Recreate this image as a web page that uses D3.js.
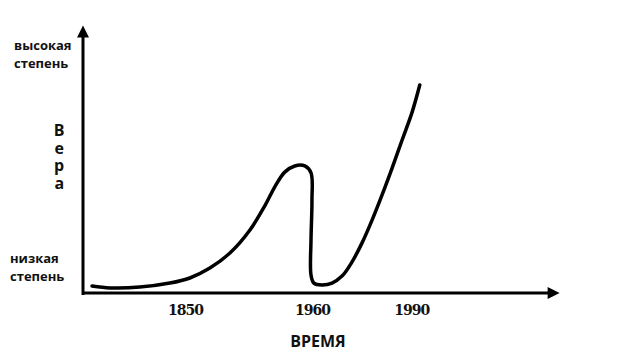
<!DOCTYPE html>
<html>
<head>
<meta charset="utf-8">
<script src="https://cdn.jsdelivr.net/npm/d3@7"></script>
<style>
  body { margin: 0; background: #fff; }
  text { fill: #111; }
</style>
</head>
<body>
<div id="chart"></div>
<script>
// time runs in arbitrary units 0..100 along the axis, belief 0..100 up the axis
var timeVals = [1.9, 5.7, 11.9, 18.2, 22.4, 26.6, 30.8, 35.0, 38.2, 40.3, 42.3, 44.4, 46.5, 47.8, 48.0, 47.8, 47.8, 48.4, 50.1, 52.2, 54.3, 56.4, 58.5, 60.6, 62.7, 64.8, 66.9, 69.0, 70.6];
var beliefVals = [2.6, 1.9, 2.2, 3.7, 5.6, 9.3, 14.9, 23.5, 32.8, 39.9, 45.1, 47.4, 47.4, 44.8, 34.7, 19.8, 6.7, 3.7, 3.0, 3.7, 6.3, 11.6, 18.7, 27.2, 36.6, 46.6, 57.1, 67.5, 77.6];
var tickPos = [21.4, 48, 68.8];
var tickLabels = ["1850", "1960", "1990"];
var yLabelTop = ["высокая", "степень"];
var yLabelBottom = ["низкая", "степень"];
var yTitle = "Вера";

var width = 628, height = 358;

var svg = d3.select("#chart").append("svg")
  .attr("width", width)
  .attr("height", height);

var x = d3.scaleLinear().domain([0, 100]).range([83, 560]);
var y = d3.scaleLinear().domain([0, 100]).range([293, 25]);

// arrow heads
var defs = svg.append("defs");
defs.append("marker")
  .attr("id", "arrow")
  .attr("viewBox", "0 0 10 10")
  .attr("refX", 2).attr("refY", 5)
  .attr("markerWidth", 5).attr("markerHeight", 4)
  .attr("markerUnits", "strokeWidth")
  .attr("orient", "auto")
  .append("path")
  .attr("d", "M0,0 L10,5 L0,10 Z")
  .attr("fill", "#000");

// axes
svg.append("line")
  .attr("x1", x(0)).attr("y1", y(0) + 2)
  .attr("x2", x(0)).attr("y2", y(100) + 10)
  .attr("stroke", "#000").attr("stroke-width", 3)
  .attr("marker-end", "url(#arrow)");

svg.append("line")
  .attr("x1", x(0) - 1).attr("y1", y(0))
  .attr("x2", x(100) - 10).attr("y2", y(0))
  .attr("stroke", "#000").attr("stroke-width", 3)
  .attr("marker-end", "url(#arrow)");

// x tick labels
var xAxis = d3.axisBottom(x)
  .tickValues(tickPos)
  .tickFormat(function(d, i) { return tickLabels[i]; })
  .tickSize(0)
  .tickPadding(12);

var gx = svg.append("g")
  .attr("transform", "translate(0," + y(0) + ")")
  .call(xAxis);
gx.select(".domain").remove();
gx.selectAll("text")
  .style("font-family", "'DejaVu Serif', serif")
  .style("font-weight", "bold")
  .style("font-size", "14px")
  .style("letter-spacing", "-1px")
  .attr("fill", "#111");

// axis title
svg.append("text")
  .attr("x", 318).attr("y", 347)
  .attr("text-anchor", "middle")
  .style("font-family", "'Open Sans', sans-serif")
  .style("font-weight", "bold")
  .style("font-size", "16px")
  .text("ВРЕМЯ");

// left labels
function stack(lines, xStart, yStart) {
  svg.append("text")
    .attr("x", xStart)
    .attr("y", yStart)
    .style("font-family", "'Open Sans', sans-serif")
    .style("font-weight", "bold")
    .style("font-size", "13px")
    .selectAll("tspan")
    .data(lines).enter().append("tspan")
    .attr("x", xStart)
    .attr("dy", function(d, i) { return i ? 18 : 0; })
    .text(function(d) { return d; });
}
stack(yLabelTop, 14, 50);
stack(yLabelBottom, 10, 263);

// vertical title, upright letters
svg.append("text")
  .attr("x", 59)
  .attr("y", 119)
  .style("writing-mode", "vertical-lr")
  .style("text-orientation", "upright")
  .style("font-family", "'Open Sans', sans-serif")
  .style("font-weight", "bold")
  .style("font-size", "16px")
  .style("letter-spacing", "-4.5px")
  .text(yTitle);

// belief curve
var pts = timeVals.map(function(t, i) { return [t, beliefVals[i]]; });
var line = d3.line()
  .x(function(d) { return x(d[0]); })
  .y(function(d) { return y(d[1]); })
  .curve(d3.curveCatmullRom.alpha(0.5));

svg.append("path")
  .datum(pts)
  .attr("d", line)
  .attr("fill", "none")
  .attr("stroke", "#000")
  .attr("stroke-width", 3.5)
  .attr("stroke-linecap", "round")
  .attr("stroke-linejoin", "round");
</script>
</body>
</html>
